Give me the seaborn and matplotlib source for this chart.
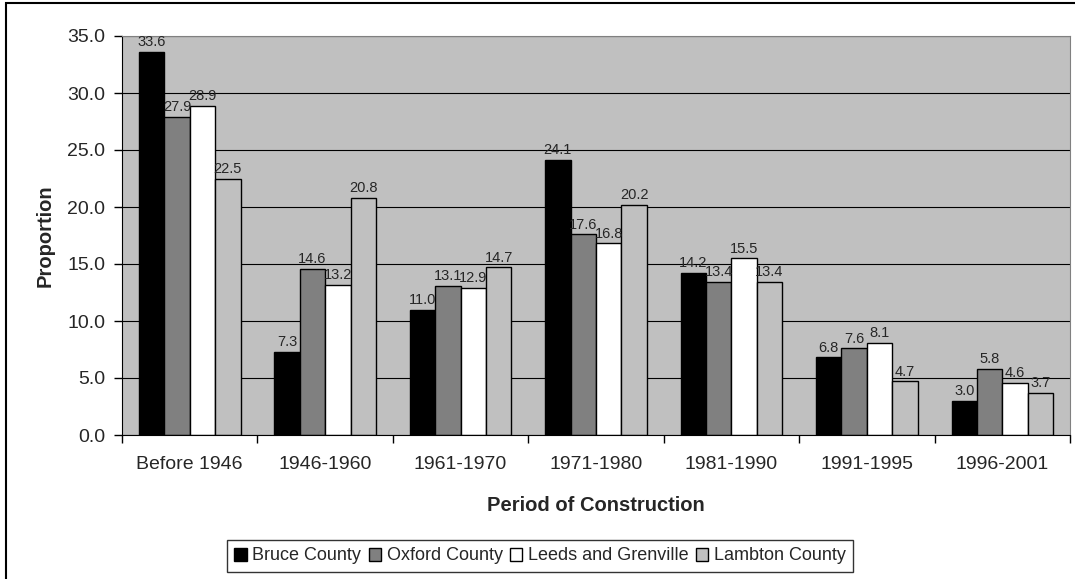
import pandas as pd
import matplotlib
matplotlib.use('Agg')
import matplotlib.pyplot as plt
import seaborn as sns
from matplotlib.patches import Rectangle

# Data
periods = ['Before 1946', '1946-1960', '1961-1970', '1971-1980', '1981-1990', '1991-1995', '1996-2001']
bruce = [33.6, 7.3, 11.0, 24.1, 14.2, 6.8, 3.0]
oxford = [27.9, 14.6, 13.1, 17.6, 13.4, 7.6, 5.8]
leeds = [28.9, 13.2, 12.9, 16.8, 15.5, 8.1, 4.6]
lambton = [22.5, 20.8, 14.7, 20.2, 13.4, 4.7, 3.7]
regions = ['Bruce County', 'Oxford County', 'Leeds and Grenville', 'Lambton County']
colors = ['#000000', '#808080', '#FFFFFF', '#C0C0C0']

df = pd.DataFrame({'Period': periods, regions[0]: bruce, regions[1]: oxford,
                   regions[2]: leeds, regions[3]: lambton})
df = df.melt(id_vars='Period', var_name='Region', value_name='Proportion')

sns.set_style('white')
plt.rcParams['font.family'] = ['Liberation Sans', 'DejaVu Sans']

fig = plt.figure(figsize=(10.75, 5.79), dpi=100)
ax = fig.add_axes([122 / 1075, 1 - 435 / 579, 948 / 1075, 399 / 579])
ax.set_facecolor('#C0C0C0')

sns.barplot(data=df, x='Period', y='Proportion', hue='Region', order=periods,
            hue_order=regions, palette=colors, edgecolor='black', linewidth=1,
            width=0.75, saturation=1, ax=ax, legend=True)

# value labels above bars
for cont in ax.containers:
    ax.bar_label(cont, fmt='%.1f', padding=2, fontsize=10.5)

ax.set_ylim(0, 35)
ax.set_xlim(-0.5, len(periods) - 0.5)
ax.set_yticks([i * 5 for i in range(8)])
ax.set_yticklabels([f'{i * 5:.1f}' for i in range(8)], fontsize=14)
ax.yaxis.grid(True, color='black', linewidth=0.8)
ax.set_axisbelow(True)
ax.tick_params(axis='y', direction='out', length=6, width=1, color='black', left=True, pad=6)
ax.tick_params(axis='x', which='major', length=0, labelsize=14, pad=15)
ax.set_xticks([i - 0.5 for i in range(len(periods) + 1)], minor=True)
ax.tick_params(axis='x', which='minor', direction='out', length=6, width=1, color='black', bottom=True)

ax.set_xlabel('Period of Construction', fontsize=14.5, fontweight='bold', labelpad=17)
ax.set_ylabel('Proportion', fontsize=14.5, fontweight='bold', labelpad=9)

ax.spines['left'].set_color('black')
ax.spines['bottom'].set_color('black')
ax.spines['top'].set_color('#808080')
ax.spines['right'].set_color('#808080')

leg = ax.legend(loc='center', bbox_to_anchor=(540 / 1075, 1 - 556 / 579),
                bbox_transform=fig.transFigure, ncol=4, frameon=True, fancybox=False,
                fontsize=13, handlelength=0.7, handleheight=0.7, handletextpad=0.3,
                columnspacing=0.4, borderpad=0.4, borderaxespad=0)
leg.get_frame().set_edgecolor('black')
leg.get_frame().set_linewidth(1)

# outer chart frame
fig.patches.append(Rectangle((6 / 1075, -0.1), 1.2, 1.1 - 3 / 579, transform=fig.transFigure,
                             fill=False, edgecolor='black', linewidth=1.5))

fig.savefig('out.png', dpi=100)
